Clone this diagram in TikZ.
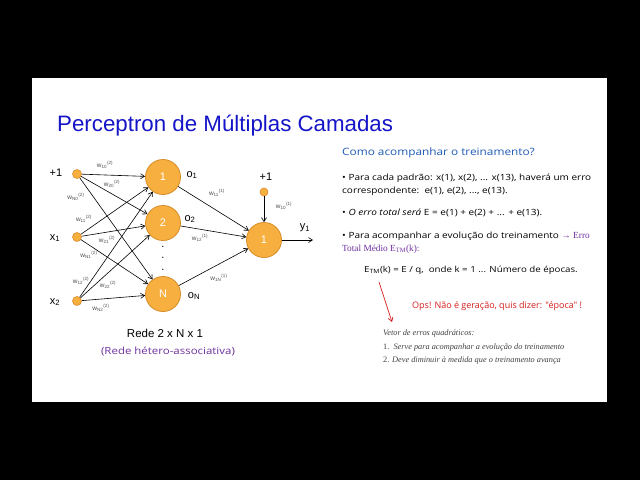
\documentclass[tikz,border=0pt]{standalone}
\usepackage{fontspec}
\setmainfont{Liberation Sans}
\newfontfamily\comic[FakeStretch=1.17]{Open Sans}
\newfontfamily\comicn{Open Sans}
\newfontfamily\serifx{Liberation Serif}
\usetikzlibrary{arrows.meta}
\definecolor{neurfill}{RGB}{247,176,64}
\definecolor{neurdraw}{RGB}{214,140,40}
\definecolor{titleblue}{RGB}{20,20,200}
\definecolor{qblue}{RGB}{30,90,180}
\definecolor{purp}{RGB}{112,48,160}
\definecolor{wgray}{RGB}{80,80,80}
\definecolor{opsred}{RGB}{215,30,30}
\tikzset{
  neuron/.style={circle,fill=neurfill,draw=neurdraw,line width=0.8pt,minimum size=35pt,inner sep=0pt,text=white,font=\fontsize{11}{11}\selectfont},
  indot/.style={circle,fill=neurfill,draw=neurdraw,line width=0.6pt,minimum size=9pt,inner sep=0pt},
  conn/.style={-{Straight Barb[length=4pt,width=5pt]},line width=0.6pt,black},
  wlab/.style={text=wgray,inner sep=0pt,font=\fontsize{6.5}{6.5}\selectfont},
  lab/.style={inner sep=0pt,font=\fontsize{11}{11}\selectfont},
  txt/.style={anchor=west,inner sep=0pt,font=\comic\fontsize{8.55}{10}\selectfont},
  vtxt/.style={anchor=west,inner sep=0pt,text=wgray!80!black,font=\serifx\itshape\fontsize{8.3}{10}\selectfont},
}
\newcommand{\wl}[2]{w\textsubscript{#1}\textsuperscript{(#2)}}
\begin{document}
\begin{tikzpicture}[x=1pt,y=-1pt]
\fill[black] (0,0) rectangle (640,480);
\useasboundingbox (0,0) rectangle (640,480);
\fill[white] (32,78) rectangle (607,402);
% title
\node[anchor=west,inner sep=0pt,text=titleblue,font=\fontsize{22.3}{22}\selectfont] (title) at (57,126) {Perceptron de Múltiplas Camadas};
% inputs
\node[indot] (b0) at (77,174) {};
\node[indot] (x1) at (77,237) {};
\node[indot] (x2) at (77,301) {};
\node[lab] (lb0) at (56,173) {+1};
\node[lab] (lx1) at (55,238) {x\textsubscript{1}};
\node[lab] (lx2) at (55,302) {x\textsubscript{2}};
% hidden
\node[neuron] (h1) at (163,177) {1};
\node[neuron] (h2) at (163,223) {2};
\node[neuron] (hN) at (163,294) {N};
\node[inner sep=0pt,font=\fontsize{11}{11}\selectfont] (d1) at (163,247) {.};
\node[inner sep=0pt,font=\fontsize{11}{11}\selectfont] (d2) at (163,258) {.};
\node[inner sep=0pt,font=\fontsize{11}{11}\selectfont] (d3) at (163,270) {.};
\foreach \i in {b0,x1,x2}{\foreach \j in {h1,h2,hN}{\draw[conn] (\i) -- (\j);}}
\node[lab] (o1) at (192,175) {o\textsubscript{1}};
\node[lab] (o2) at (190,219) {o\textsubscript{2}};
\node[lab] (oN) at (194,296) {o\textsubscript{N}};
% output
\node[neuron] (y) at (264,240) {1};
\node[indot,minimum size=8pt] (b1) at (264,192) {};
\node[lab] (lb1) at (266,177) {+1};
\coordinate (yend) at (313,240);
\draw[conn] (h1) -- (y);
\draw[conn] (h2) -- (y);
\draw[conn] (hN) -- (y);
\draw[conn] (b1) -- (y);
\draw[conn] (y) -- (yend);
\node[lab] (ly) at (305,228) {y\textsubscript{1}};
% weights layer 2
\node[wlab] (w10) at (105,165) {\wl{10}{2}};
\node[wlab] (w20) at (112,184) {\wl{20}{2}};
\node[wlab] (wN0) at (76,197) {\wl{N0}{2}};
\node[wlab] (w11) at (84,219) {\wl{11}{2}};
\node[wlab] (w21) at (107,240) {\wl{21}{2}};
\node[wlab] (wN1) at (89,255) {\wl{N1}{2}};
\node[wlab] (w12) at (81,281) {\wl{12}{2}};
\node[wlab] (w22) at (108,285) {\wl{22}{2}};
\node[wlab] (wN2) at (101,308) {\wl{N2}{2}};
% weights layer 1
\node[wlab] (v11) at (217,193) {\wl{11}{1}};
\node[wlab] (v12) at (200,238) {\wl{12}{1}};
\node[wlab] (v1N) at (219,278) {\wl{1N}{1}};
\node[wlab] (v10) at (284,206) {\wl{10}{1}};
% captions
\node[inner sep=0pt,font=\fontsize{11.5}{11.5}\selectfont] (rede) at (165,333) {Rede 2 x N x 1};
\node[inner sep=0pt,text=purp,font=\comic\fontsize{9.8}{10}\selectfont] (het) at (168,352) {(Rede hétero-associativa)};
% right text
\node[txt,text=qblue,font=\comic\fontsize{10.1}{12}\selectfont] (q) at (342,153) {Como acompanhar o treinamento?};
\node[txt] (l1) at (342,178) {• Para cada padrão: x(1), x(2), ... x(13), haverá um erro};
\node[txt] (l2) at (342,191) {correspondente:\ \ e(1), e(2), ..., e(13).};
\node[txt] (l3) at (342,213) {• \textit{O erro total será} E = e(1) + e(2) + ... + e(13).};
\node[txt] (l4) at (342,236) {• Para acompanhar a evolução do treinamento {\serifx\fontsize{9.3}{10}\selectfont\color{purp}→ Erro}};
\node[txt,text=purp,font=\serifx\fontsize{9.3}{10}\selectfont] (l5) at (342,249) {Total Médio E\textsubscript{TM}(k):};
\node[txt,font=\comic\fontsize{8.3}{10}\selectfont] (f) at (364,270) {E\textsubscript{TM}(k) = E / q,\ \ onde k = 1 ... Número de épocas.};
\node[txt,text=opsred,font=\comicn\fontsize{9}{10}\selectfont] (ops) at (412,306) {Ops! Não é geração, quis dizer: "época" !};
\coordinate (ra) at (379,282);
\coordinate (rb) at (392,322);
\draw[opsred,line width=0.7pt,-{Straight Barb[length=4pt,width=5pt]}] (ra) -- (rb);
\node[vtxt] (v) at (383,333) {Vetor de erros quadráticos:};
\node[vtxt] (v1) at (383,347) {{\upshape 1.}\ \ Serve para acompanhar a evolução do treinamento};
\node[vtxt] (v2) at (383,360) {{\upshape 2.} Deve diminuir à medida que o treinamento avança};
\end{tikzpicture}
\end{document}
